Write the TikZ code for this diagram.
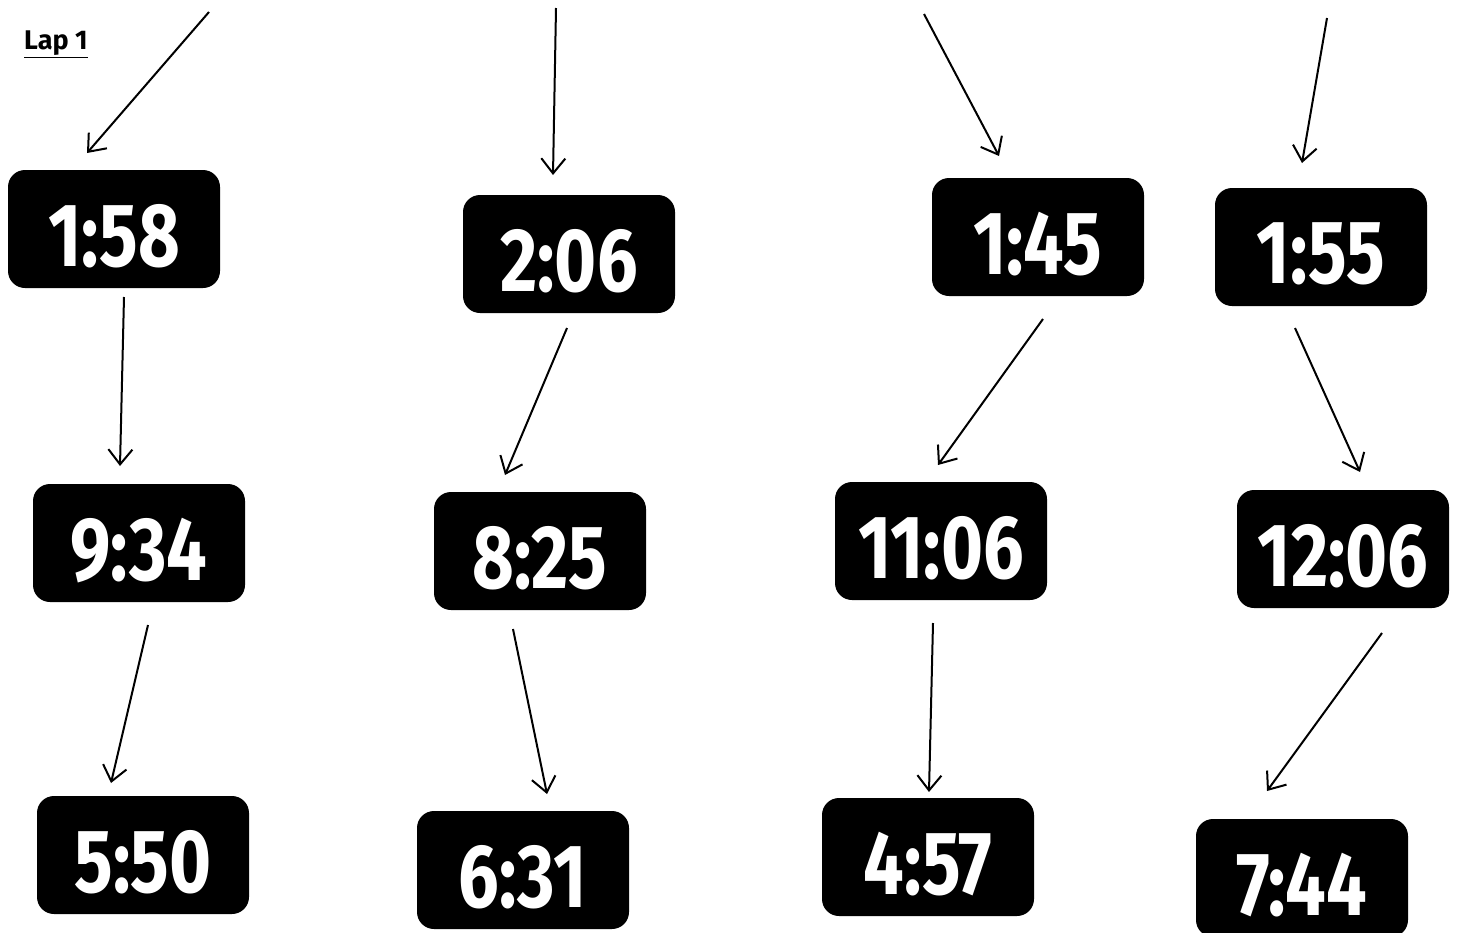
\documentclass[tikz,border=0pt]{standalone}
\usepackage{fontspec}
\usepackage{graphicx}
\setmainfont{Fira Sans}
\usetikzlibrary{arrows.meta}
\newfontfamily\clockfont{Fira Sans}
\tikzset{
  clock/.style={fill=black, rounded corners=17pt, minimum width=212pt, minimum height=118pt,
    inner sep=0pt, text=white, font=\clockfont\bfseries\fontsize{90}{90}\selectfont},
  arr/.style={line width=2pt, -{Straight Barb[length=15pt,width=24pt]}}
}
\newcommand{\clk}[1]{\raisebox{-6pt}[\height][0pt]{\scalebox{0.8}[1]{#1}}}
\begin{document}
\begin{tikzpicture}[x=1pt,y=-1pt]
\useasboundingbox (0,0) rectangle (1459,932);
\node[anchor=west, font=\bfseries\fontsize{27}{27}\selectfont, inner sep=0pt] (lap) at (24,44) {\underline{Lap 1}};
% boxes
\node[clock] (b1) at (114,229) {\clk{1:58}};
\node[clock] (b2) at (569,254) {\clk{2:06}};
\node[clock] (b3) at (1038,237) {\clk{1:45}};
\node[clock] (b4) at (1321,247) {\clk{1:55}};
\node[clock] (b5) at (139,543) {\clk{9:34}};
\node[clock] (b6) at (540,551) {\clk{8:25}};
\node[clock] (b7) at (941,541) {\clk{11:06}};
\node[clock] (b8) at (1343,549) {\clk{12:06}};
\node[clock] (b9) at (143,855) {\clk{5:50}};
\node[clock] (b10) at (523,870) {\clk{6:31}};
\node[clock] (b11) at (928,857) {\clk{4:57}};
\node[clock] (b12) at (1302,878) {\clk{7:44}};
% arrow ends
\coordinate (t1) at (209,12);   \coordinate (t1e) at (87,153);
\coordinate (t2) at (556,8);    \coordinate (t2e) at (553,175);
\coordinate (t3) at (924,14);   \coordinate (t3e) at (999,156);
\coordinate (t4) at (1327,18);  \coordinate (t4e) at (1302,163);
\coordinate (m1) at (124,297);  \coordinate (m1e) at (120,466);
\coordinate (m2) at (567,328);  \coordinate (m2e) at (505,475);
\coordinate (m3) at (1043,319); \coordinate (m3e) at (938,465);
\coordinate (m4) at (1295,328); \coordinate (m4e) at (1360,472);
\coordinate (l1) at (148,625);  \coordinate (l1e) at (111,783);
\coordinate (l2) at (513,629);  \coordinate (l2e) at (547,794);
\coordinate (l3) at (933,623);  \coordinate (l3e) at (929,792);
\coordinate (l4) at (1382,633); \coordinate (l4e) at (1267,791);
\foreach \a in {t1,t2,t3,t4,m1,m2,m3,m4,l1,l2,l3,l4}{
  \draw[arr] (\a) -- (\a e);
}
\end{tikzpicture}
\end{document}
